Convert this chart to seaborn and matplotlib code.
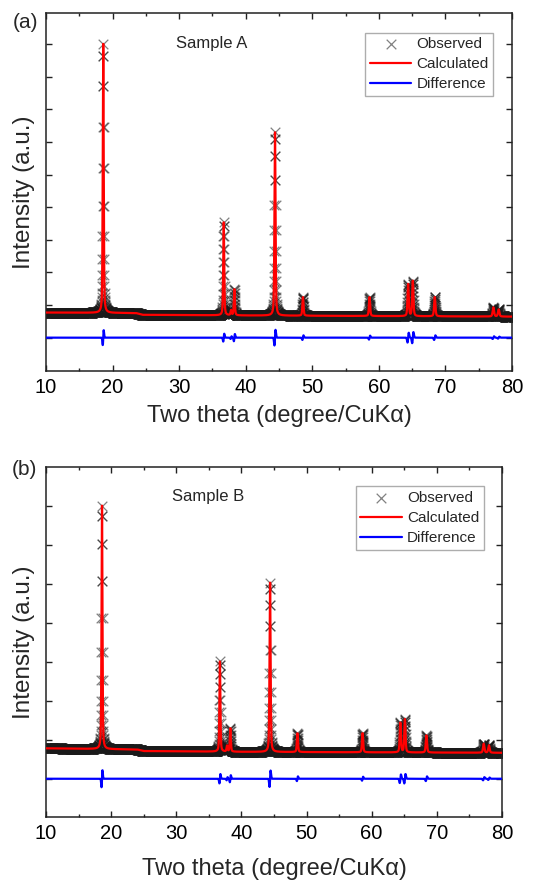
import numpy as np
import pandas as pd
import matplotlib
matplotlib.use("Agg")
import matplotlib.pyplot as plt
from matplotlib.ticker import MultipleLocator
import seaborn as sns

# scan grid (degrees 2theta)
two_theta_start = 10.0
two_theta_stop = 80.0
scan_step = 0.02

# peak positions (2theta) shared by both samples
peak_pos = [18.6, 36.7, 37.8, 38.3, 44.4, 48.6, 58.6, 64.4, 65.1, 68.4, 77.2, 78.0]
peak_fwhm = [0.17, 0.18, 0.18, 0.18, 0.19, 0.2, 0.21, 0.22, 0.22, 0.23, 0.25, 0.25]

# sample A: peak heights above background, background anchors, difference wiggles
heights_a = [8250, 2850, 150, 800, 5620, 570, 580, 980, 1080, 590, 280, 220]
bg_x_a = [10, 23.5, 24.5, 40, 80]
bg_y_a = [770, 755, 700, 680, 645]
diff_amp_a = [230, 120, 40, 110, 240, 70, 60, 150, 170, 70, 40, 30]

# sample B
heights_b = [6240, 2310, 150, 600, 4340, 480, 490, 760, 850, 440, 230, 190]
bg_x_b = [10, 24, 25, 40, 80]
bg_y_b = [780, 750, 710, 690, 665]
diff_amp_b = [220, 120, 40, 90, 210, 60, 50, 110, 120, 60, 40, 30]

samples = [
    dict(tag="(a)", name="Sample A", heights=heights_a, bg_x=bg_x_a, bg_y=bg_y_a,
         diff=diff_amp_a, ylim=(-1024, 9957)),
    dict(tag="(b)", name="Sample B", heights=heights_b, bg_x=bg_x_b, bg_y=bg_y_b,
         diff=diff_amp_b, ylim=(-982, 7992)),
]

sns.set_theme(style="ticks")
plt.rcParams["font.family"] = ["Liberation Sans", "DejaVu Sans"]

tt = np.arange(two_theta_start, two_theta_stop + scan_step / 2, scan_step)


def profile(s):
    y = np.interp(tt, s["bg_x"], s["bg_y"])
    d = np.zeros_like(tt)
    for p, w, h, a in zip(peak_pos, peak_fwhm, s["heights"], s["diff"]):
        u = (tt - p) / (w / 2)
        gauss = np.exp(-np.log(2) * u ** 2)
        lor = 1.0 / (1.0 + u ** 2)
        y += h * (0.6 * gauss + 0.4 * lor)
        sig = w / 2.355
        v = (tt - p) / sig
        d += a * v * np.exp(0.5 - v ** 2 / 2)
    return y, d


fig = plt.figure(figsize=(5.48, 8.83), dpi=100)
ax_a = fig.add_axes([0.0839, 0.5798, 0.8504, 0.4055])
ax_b = fig.add_axes([0.0839, 0.0747, 0.8321, 0.3964])

for ax, s, lp in zip([ax_a, ax_b], samples, [6, 11]):
    calc, diff = profile(s)
    df = pd.DataFrame({"tt": tt, "obs": calc, "calc": calc, "diff": diff})

    sns.scatterplot(data=df, x="tt", y="obs", ax=ax, marker="x", color="k",
                    alpha=0.55, s=48, linewidth=0.9, label="Observed", zorder=2)
    sns.lineplot(data=df, x="tt", y="calc", ax=ax, color="#ff0000", lw=1.6,
                 label="Calculated", zorder=3)
    sns.lineplot(data=df, x="tt", y="diff", ax=ax, color="#0000ff", lw=1.6,
                 label="Difference", zorder=3)

    ax.set_xlim(two_theta_start, two_theta_stop)
    ax.set_ylim(*s["ylim"])
    ax.set_yticks(np.arange(0, s["ylim"][1], 1000))
    ax.xaxis.set_major_locator(MultipleLocator(10))
    ax.xaxis.set_minor_locator(MultipleLocator(5))
    ax.tick_params(axis="both", which="both", direction="in", top=True, right=True,
                   labelleft=False, colors="#222222", labelcolor="black")
    ax.tick_params(axis="both", which="major", length=4, width=1)
    ax.tick_params(axis="x", which="minor", length=2.5, width=1)
    ax.tick_params(axis="x", labelsize=14.5, pad=5)
    for sp in ax.spines.values():
        sp.set_linewidth(1.1)
        sp.set_color("#222222")

    ax.set_xlabel("Two theta (degree/CuK\u03b1)", fontsize=17, labelpad=lp)
    ax.set_ylabel("Intensity (a.u.)", fontsize=17.5, labelpad=8)

    ax.text(0.355, 0.915, s["name"], transform=ax.transAxes, fontsize=12,
            ha="center", va="center")

    leg = ax.legend(loc="upper right", bbox_to_anchor=(0.96, 0.945), fontsize=11,
                    frameon=True, fancybox=False, edgecolor="#999999",
                    handlelength=2.7, handletextpad=0.35, labelspacing=0.4,
                    borderpad=0.3, borderaxespad=0)
    leg.get_frame().set_linewidth(1.0)

fig.text(25 / 548, 1 - 23 / 883, "(a)", fontsize=15, ha="center", va="center")
fig.text(24 / 548, 1 - 470 / 883, "(b)", fontsize=15, ha="center", va="center")

fig.savefig("out.png", dpi=100)
